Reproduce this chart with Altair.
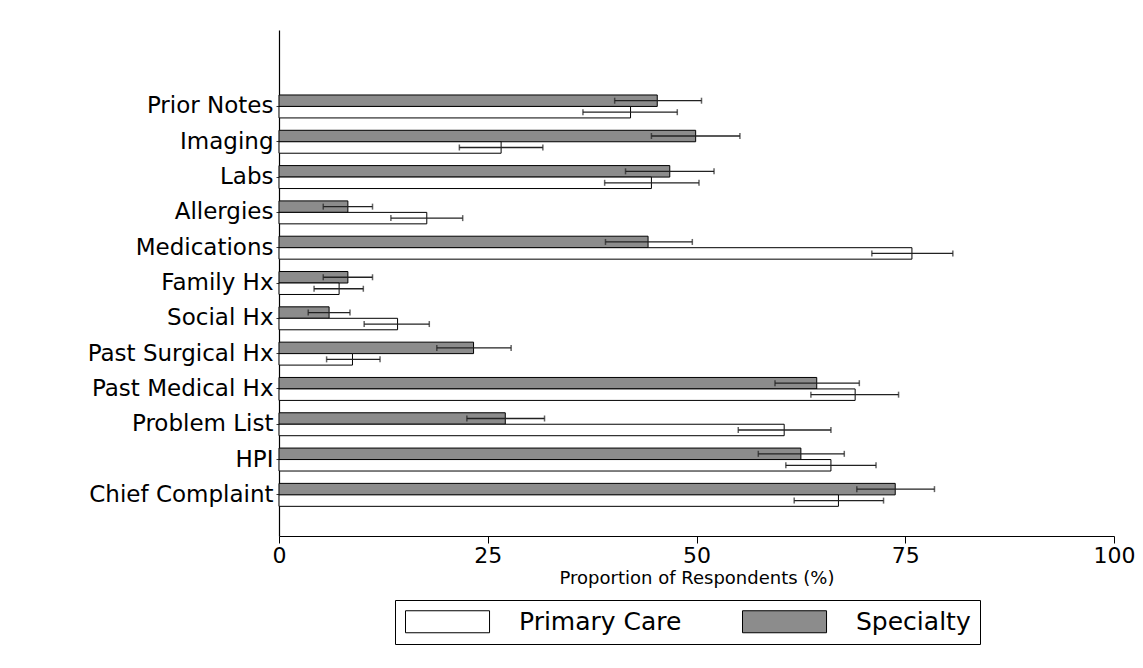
import altair as alt
import pandas as pd

categories = ["Prior Notes", "Imaging", "Labs", "Allergies", "Medications", "Family Hx",
              "Social Hx", "Past Surgical Hx", "Past Medical Hx", "Problem List", "HPI",
              "Chief Complaint"]
specialty = [45.3, 49.9, 46.8, 8.25, 44.2, 8.25, 6.0, 23.3, 64.4, 27.1, 62.5, 73.8]
specialty_lo = [40.2, 44.6, 41.5, 5.3, 39.1, 5.3, 3.5, 18.9, 59.4, 22.5, 57.4, 69.2]
specialty_hi = [50.6, 55.2, 52.1, 11.2, 49.5, 11.2, 8.5, 27.8, 69.5, 31.8, 67.7, 78.5]
primary = [42.1, 26.6, 44.6, 17.7, 75.8, 7.2, 14.2, 8.8, 69.0, 60.5, 66.1, 67.0]
primary_lo = [36.4, 21.6, 39.0, 13.4, 71.0, 4.2, 10.2, 5.7, 63.7, 55.0, 60.7, 61.7]
primary_hi = [47.7, 31.6, 50.3, 22.0, 80.7, 10.1, 18.0, 12.1, 74.2, 66.1, 71.5, 72.4]
series = ["Primary Care", "Specialty"]
x_ticks = [0, 25, 50, 75, 100]

rows = []
for i, c in enumerate(categories):
    rows.append({"cat": c, "group": "Specialty", "v": specialty[i], "lo": specialty_lo[i], "hi": specialty_hi[i]})
    rows.append({"cat": c, "group": "Primary Care", "v": primary[i], "lo": primary_lo[i], "hi": primary_hi[i]})
df = pd.DataFrame(rows)

FONT = "DejaVu Sans"
y_domain = [""] + categories

y_enc = alt.Y("cat:N", scale=alt.Scale(domain=y_domain, paddingInner=0.35, paddingOuter=0.84),
              axis=alt.Axis(title=None, values=categories, labelFont=FONT, labelFontSize=23,
                            labelColor="black", domainColor="black", domainWidth=1.2,
                            tickColor="#333", tickSize=3, labelPadding=3, labelLimit=400))
yoff = alt.YOffset("group:N", scale=alt.Scale(domain=["Specialty", "Primary Care"], paddingInner=0))

x_enc = alt.X("v:Q", scale=alt.Scale(domain=[0, 100], nice=False),
              axis=alt.Axis(title="Proportion of Respondents (%)", values=x_ticks,
                            labelFont=FONT, labelFontSize=22, labelColor="black",
                            labelFlush=False,
                            titleFont=FONT, titleFontSize=18, titleFontWeight="normal",
                            titleColor="black", titlePadding=3, domainColor="black",
                            domainWidth=1.2, tickColor="black", tickSize=7, labelPadding=2,
                            grid=False))

bars = alt.Chart(df).mark_bar(stroke="black", strokeWidth=1).encode(
    y=y_enc, yOffset=yoff, x=x_enc,
    color=alt.Color("group:N", scale=alt.Scale(domain=series, range=["white", "#8c8c8c"]),
                    title=None,
                    legend=alt.Legend(orient="none", legendX=116, legendY=570,
                                      direction="horizontal", strokeColor="black",
                                      padding=9, symbolType="M-1,-1H6.64V1H-1Z",
                                      symbolSize=484, symbolStrokeColor="black",
                                      symbolStrokeWidth=1, symbolOpacity=1,
                                      labelFont=FONT, labelFontSize=25, labelColor="black",
                                      labelLimit=400, columnPadding=58, labelOffset=90)),
)

err = alt.Chart(df).mark_rule(color="#222", strokeWidth=1.3).encode(
    y=alt.Y("cat:N"), yOffset=yoff, x=alt.X("lo:Q"), x2="hi:Q")
cap_lo = alt.Chart(df).mark_tick(color="#222", thickness=1.5, size=6).encode(
    y=alt.Y("cat:N"), yOffset=yoff, x=alt.X("lo:Q"))
cap_hi = alt.Chart(df).mark_tick(color="#222", thickness=1.5, size=6).encode(
    y=alt.Y("cat:N"), yOffset=yoff, x=alt.X("hi:Q"))

chart = alt.layer(bars, err, cap_lo, cap_hi).properties(
    width=835, height=506, background="white",
    padding={"left": 79, "top": 22, "right": 0, "bottom": 10},
).configure_view(stroke=None)

chart.save("out.html", embed_options={"renderer": "svg", "actions": False})
